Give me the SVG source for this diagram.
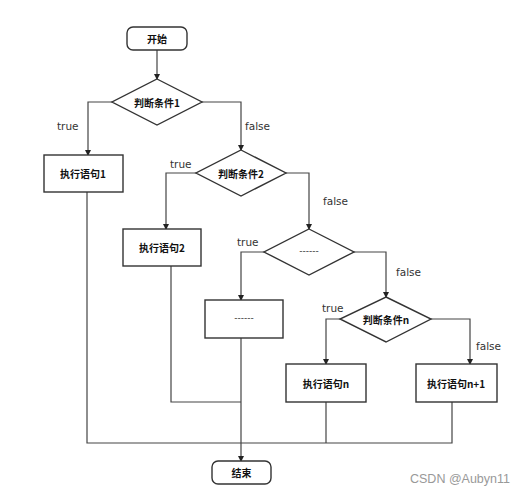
<svg xmlns="http://www.w3.org/2000/svg" width="522" height="497" viewBox="0 0 522 497">
<style>
.shape{fill:#fff;stroke:#333;stroke-width:1.4}
.ln{fill:none;stroke:#444;stroke-width:1.2}
.cn{font-family:"Noto Sans CJK SC","Noto Sans CJK TC",sans-serif;font-weight:bold;font-size:10px;fill:#111;text-anchor:middle;dominant-baseline:central}
.lbl{font-family:"DejaVu Sans",sans-serif;font-size:10.5px;fill:#333}
.dots{font-family:"DejaVu Sans",sans-serif;font-size:9px;fill:#333;text-anchor:middle;dominant-baseline:central}
</style>
<defs>
<marker id="arr" markerWidth="6" markerHeight="6" refX="5" refY="3" orient="auto" markerUnits="userSpaceOnUse">
<path d="M0,0 L6,3 L0,6 Z" fill="#222"/>
</marker>
</defs>
<rect width="522" height="497" fill="#fff"/>
<g id="connectors">
<path class="ln" d="M157,50 V79" marker-end="url(#arr)"/>
<path class="ln" d="M112,102 H88 V155" marker-end="url(#arr)"/>
<path class="ln" d="M202,102 H241 V150" marker-end="url(#arr)"/>
<path class="ln" d="M196,173 H166 V229" marker-end="url(#arr)"/>
<path class="ln" d="M286,173 H309 V229" marker-end="url(#arr)"/>
<path class="ln" d="M264,252 H241 V300" marker-end="url(#arr)"/>
<path class="ln" d="M354,252 H386 V297" marker-end="url(#arr)"/>
<path class="ln" d="M340,319 H326 V364" marker-end="url(#arr)"/>
<path class="ln" d="M431,319 H470 V364" marker-end="url(#arr)"/>
<path class="ln" d="M87,192 V443 H452 V402"/>
<path class="ln" d="M326,402 V443"/>
<path class="ln" d="M171,266 V402 H241"/>
<path class="ln" d="M241,338 V461" marker-end="url(#arr)"/>
<text class="lbl" x="57" y="130">true</text>
<text class="lbl" x="245" y="130">false</text>
<text class="lbl" x="170" y="168">true</text>
<text class="lbl" x="323" y="205">false</text>
<text class="lbl" x="237" y="246">true</text>
<text class="lbl" x="396" y="276">false</text>
<text class="lbl" x="322" y="312">true</text>
<text class="lbl" x="476" y="350">false</text>
</g>
<g id="start">
<rect class="shape" x="127" y="27" width="60" height="23" rx="6"/>
<text class="cn" x="157" y="38.5">开始</text>
</g>
<g id="cond1">
<polygon class="shape" points="157,79 202,102 157,125 112,102"/>
<text class="cn" x="157" y="102">判断条件1</text>
</g>
<g id="stmt1">
<rect class="shape" x="44" y="155" width="79" height="37"/>
<text class="cn" x="83" y="173.5">执行语句1</text>
</g>
<g id="cond2">
<polygon class="shape" points="241,150 286,173 241,196 196,173"/>
<text class="cn" x="241" y="173">判断条件2</text>
</g>
<g id="stmt2">
<rect class="shape" x="123" y="229" width="78" height="37"/>
<text class="cn" x="162" y="247.5">执行语句2</text>
</g>
<g id="cond3">
<polygon class="shape" points="309,229 354,252 309,275 264,252"/>
<text class="dots" x="309" y="251">------</text>
</g>
<g id="stmt3">
<rect class="shape" x="205" y="300" width="78" height="38"/>
<text class="dots" x="244" y="318">------</text>
</g>
<g id="condn">
<polygon class="shape" points="386,297 431,319 386,342 340,319"/>
<text class="cn" x="386" y="319">判断条件n</text>
</g>
<g id="stmtn">
<rect class="shape" x="286" y="364" width="80" height="38"/>
<text class="cn" x="326" y="383">执行语句n</text>
</g>
<g id="stmtn1">
<rect class="shape" x="416" y="364" width="81" height="38"/>
<text class="cn" x="456" y="383">执行语句n+1</text>
</g>
<g id="end">
<rect class="shape" x="212" y="461" width="59" height="23" rx="6"/>
<text class="cn" x="241.5" y="472.5">结束</text>
</g>
<text x="510" y="483" font-family="'Liberation Sans',sans-serif" font-size="12.5" fill="#999" text-anchor="end">CSDN @Aubyn11</text>
</svg>
